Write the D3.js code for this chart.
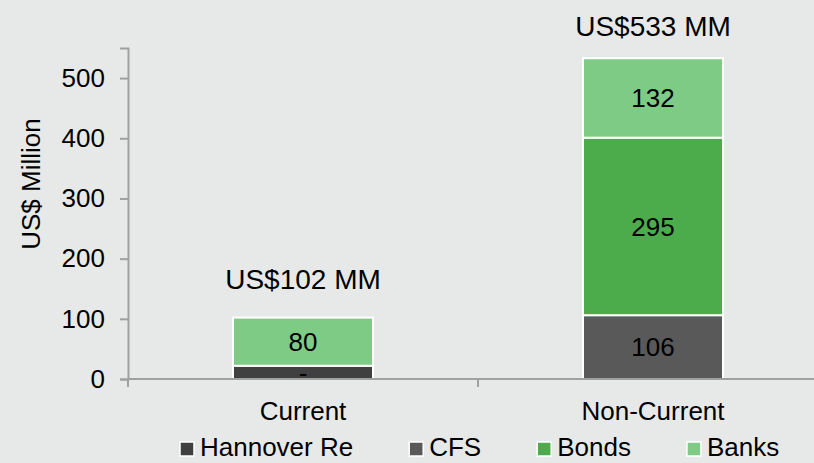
<!DOCTYPE html>
<html>
<head>
	<meta charset="utf-8">
	<title>Debt</title>
	<script src="https://d3js.org/d3.v7.min.js"></script>
	<style>
		body { margin: 0; background: #e7e9e8; }
		svg { display: block; font-family: "Liberation Sans", Arial, sans-serif; }
	</style>
</head>
<body>
<script>
	var categories = ['Current', 'Non-Current'];
	var seriesNames = ['Hannover Re', 'CFS', 'Bonds', 'Banks'];
	var hannoverRe = [22, 0];
	var cfs = [0, 106];
	var bonds = [0, 295];
	var banks = [80, 132];
	var hannoverReLabels = ['-', ''];
	var yTicks = [0, 100, 200, 300, 400, 500];
	var colors = ['#404040', '#595959', '#4cac4c', '#7ecb85'];
	var totalOffsets = [29, 22];

	var W = 814, H = 463;
	var svg = d3.select('body').append('svg')
		.attr('width', W)
		.attr('height', H);

	svg.append('rect').attr('width', W).attr('height', H).attr('fill', '#e7e9e8');

	var rows = categories.map(function(c, i) {
		return {cat: c, 'Hannover Re': hannoverRe[i], 'CFS': cfs[i], 'Bonds': bonds[i], 'Banks': banks[i]};
	});
	var stacked = d3.stack().keys(seriesNames)(rows);

	var x = d3.scaleBand().domain(categories).range([128, 828]).paddingInner(0.6).paddingOuter(0.3);
	var y = d3.scaleLinear().domain([0, 550]).range([379, 48]);
	var color = d3.scaleOrdinal().domain(seriesNames).range(colors);

	// y axis
	var yAxis = svg.append('g')
		.attr('transform', 'translate(128,0)')
		.call(d3.axisLeft(y).tickValues(yTicks).tickSize(8).tickPadding(15));
	yAxis.select('.domain').attr('stroke', '#a0a0a0').attr('stroke-width', 2);
	yAxis.selectAll('.tick line').attr('stroke', '#a0a0a0').attr('stroke-width', 2);
	yAxis.selectAll('.tick text').attr('font-size', 26).attr('fill', '#000')
		.attr('font-family', '"Liberation Sans", Arial, sans-serif');

	svg.append('text')
		.attr('transform', 'translate(40,184) rotate(-90)')
		.attr('text-anchor', 'middle')
		.attr('font-size', 26)
		.text('US$ Million');

	// bars
	var layers = svg.append('g').selectAll('g')
		.data(stacked)
		.join('g')
		.attr('fill', function(d) { return color(d.key); });

	layers.selectAll('rect')
		.data(function(d) { return d.filter(function(s) { return s[1] > s[0]; }); })
		.join('rect')
		.attr('x', function(d) { return x(d.data.cat); })
		.attr('y', function(d) { return y(d[1]); })
		.attr('width', x.bandwidth())
		.attr('height', function(d) { return y(d[0]) - y(d[1]); })
		.attr('stroke', '#fff')
		.attr('stroke-width', 2);

	// x axis
	var step = x.step();
	var bounds = [x(categories[0]) - step * 0.3, x(categories[1]) - step * 0.3];
	svg.append('line')
		.attr('x1', 128).attr('x2', W)
		.attr('y1', y(0)).attr('y2', y(0))
		.attr('stroke', '#a0a0a0').attr('stroke-width', 2);
	svg.selectAll('.xtick')
		.data(bounds)
		.join('line')
		.attr('class', 'xtick')
		.attr('x1', function(d) { return d; }).attr('x2', function(d) { return d; })
		.attr('y1', y(0)).attr('y2', y(0) + 8)
		.attr('stroke', '#a0a0a0').attr('stroke-width', 2);
	svg.selectAll('.xlabel')
		.data(categories)
		.join('text')
		.attr('class', 'xlabel')
		.attr('x', function(d) { return x(d) + x.bandwidth() / 2; })
		.attr('y', 420)
		.attr('text-anchor', 'middle')
		.attr('font-size', 26)
		.text(function(d) { return d; });

	// segment labels
	var segs = [];
	stacked.forEach(function(layer) {
		layer.forEach(function(s, i) {
			if (s[1] > s[0]) {
				var t = layer.key === 'Hannover Re' ? hannoverReLabels[i] : String(s[1] - s[0]);
				segs.push({cat: s.data.cat, mid: (s[0] + s[1]) / 2, text: t});
			}
		});
	});
	svg.selectAll('.seglabel')
		.data(segs)
		.join('text')
		.attr('class', 'seglabel')
		.attr('x', function(d) { return x(d.cat) + x.bandwidth() / 2; })
		.attr('y', function(d) { return y(d.mid); })
		.attr('dy', '0.36em')
		.attr('text-anchor', 'middle')
		.attr('font-size', 26)
		.text(function(d) { return d.text; });

	// totals
	svg.selectAll('.total')
		.data(rows)
		.join('text')
		.attr('class', 'total')
		.attr('x', function(d) { return x(d.cat) + x.bandwidth() / 2; })
		.attr('y', function(d, i) {
			return y(d3.sum(seriesNames, function(k) { return d[k]; })) - totalOffsets[i];
		})
		.attr('text-anchor', 'middle')
		.attr('font-size', 28)
		.text(function(d) { return 'US$' + d3.sum(seriesNames, function(k) { return d[k]; }) + ' MM'; });

	// legend
	var lx = 180;
	seriesNames.forEach(function(name) {
		var g = svg.append('g').attr('transform', 'translate(' + lx + ',0)');
		g.append('rect')
			.attr('x', 0).attr('y', 442)
			.attr('width', 14).attr('height', 14)
			.attr('fill', color(name))
			.attr('stroke', '#fff').attr('stroke-width', 1.5);
		var t = g.append('text')
			.attr('x', 20).attr('y', 456)
			.attr('font-size', 26)
			.text(name);
		lx += 20 + t.node().getComputedTextLength() + 56;
	});
</script>
</body>
</html>
